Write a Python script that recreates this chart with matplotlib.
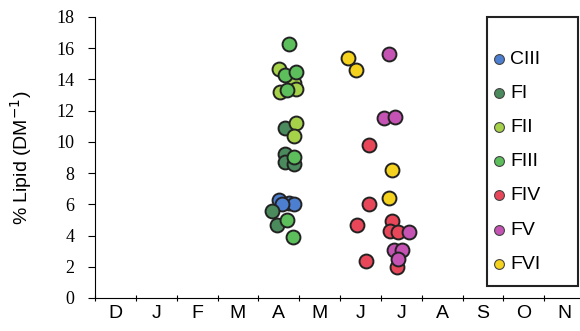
import numpy as np
import matplotlib
matplotlib.use("Agg")
import matplotlib.pyplot as plt
from matplotlib.patches import Rectangle

# month labels, ticks at month boundaries (Dec .. Nov)
months = ["D", "J", "F", "M", "A", "M", "J", "J", "A", "S", "O", "N"]

# x in months since start of December, y = % lipid
groups = ["CIII", "FI", "FII", "FIII", "FIV", "FV", "FVI"]
colors = ["#4d7fd1", "#4a8a5c", "#a6d24a", "#5cbf5c", "#e8475a", "#c453b4", "#f5d21e"]

ciii_x = [4.51, 4.74, 4.88, 4.57]
ciii_y = [6.3, 6.1, 6.0, 6.0]

fi_x = [4.64, 4.64, 4.64, 4.88, 4.33, 4.45]
fi_y = [10.9, 9.2, 8.7, 8.6, 5.6, 4.7]

fii_x = [4.51, 4.88, 4.53, 4.92, 4.92, 4.88]
fii_y = [14.7, 13.8, 13.2, 13.4, 11.2, 10.4]

fiii_x = [4.74, 4.64, 4.92, 4.70, 4.88, 4.70, 4.84]
fiii_y = [16.3, 14.3, 14.5, 13.3, 9.0, 5.0, 3.9]

fiv_x = [6.70, 6.70, 6.41, 7.27, 7.23, 7.41, 7.40, 6.64]
fiv_y = [9.8, 6.0, 4.7, 4.9, 4.3, 4.25, 2.0, 2.4]

fv_x = [7.21, 7.07, 7.34, 7.68, 7.31, 7.52, 7.43]
fv_y = [15.6, 11.5, 11.6, 4.2, 3.1, 3.1, 2.5]

fvi_x = [6.19, 6.39, 7.27, 7.19]
fvi_y = [15.4, 14.6, 8.2, 6.4]

xs = [ciii_x, fi_x, fii_x, fiii_x, fiv_x, fv_x, fvi_x]
ys = [ciii_y, fi_y, fii_y, fiii_y, fiv_y, fv_y, fvi_y]

fig = plt.figure(figsize=(5.8, 3.31), dpi=100)
ax = fig.add_axes([0.1638, 0.0997, 0.845, 0.849])

handles = []
for name, c, x, y in zip(groups, colors, xs, ys):
    ax.scatter(x, y, s=100, color=c, edgecolor="#222222", linewidth=1.4, zorder=3)
    h = ax.scatter([], [], s=50, color=c, edgecolor="#444444", linewidth=0.8, label=name)
    handles.append(h)

ax.set_xlim(0, 12)
ax.set_ylim(0, 18)
ax.set_xticks(np.arange(0, 13))
ax.set_xticklabels([])
ax.set_xticks(np.arange(12) + 0.5, minor=True)
ax.set_xticklabels(months, minor=True, fontsize=14, family="Liberation Sans")
ax.tick_params(axis="x", which="minor", length=0, pad=5)
ax.tick_params(axis="x", which="major", length=4, direction="inout")
ax.set_yticks(np.arange(0, 19, 2))
ax.set_yticklabels([str(v) for v in range(0, 19, 2)], fontsize=13, family="Liberation Serif")
ax.tick_params(axis="y", length=5, direction="out", pad=10)
ax.spines["top"].set_visible(False)
ax.spines["right"].set_visible(False)
ax.set_ylabel("% Lipid (DM$^{-1}$)", fontsize=14, family="Liberation Sans", labelpad=16)

# legend box
fig.patches.append(Rectangle((0.840, 0.136), 0.157, 0.813, transform=fig.transFigure,
                             fill=False, edgecolor="#222222", linewidth=1.5))
leg = fig.legend(handles=handles, loc="upper left", bbox_to_anchor=(0.843, 0.848),
                 bbox_transform=fig.transFigure, frameon=False, borderpad=0,
                 borderaxespad=0, handletextpad=0.1, handlelength=1.0,
                 labelspacing=0.85, prop={"family": "Liberation Sans", "size": 14})

fig.savefig("out.png", dpi=100)
